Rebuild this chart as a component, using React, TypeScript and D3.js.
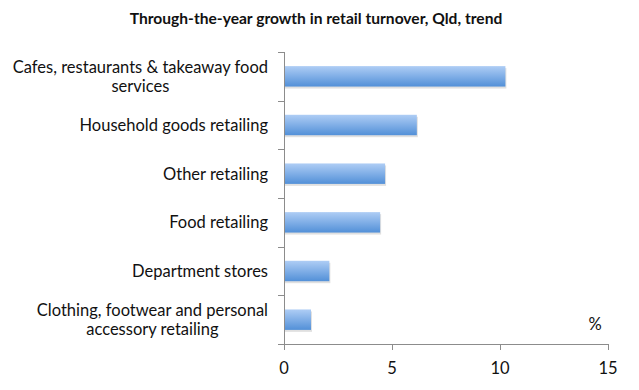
import * as d3 from "d3";
import { useEffect, useRef } from "react";

const categories = [
  "Cafes, restaurants & takeaway food|services",
  "Household goods retailing",
  "Other retailing",
  "Food retailing",
  "Department stores",
  "Clothing, footwear and personal|accessory retailing",
];
const growth = [10.25, 6.15, 4.68, 4.45, 2.1, 1.25];
const xTicks = [0, 5, 10, 15];

const WIDTH = 639;
const HEIGHT = 390;
const MARGIN = { top: 52, right: 31, bottom: 46, left: 284 };
const FONT = "Lato, 'Open Sans', sans-serif";

export default function App() {
  const ref = useRef<SVGSVGElement>(null);

  useEffect(() => {
    const svg = d3.select(ref.current);
    svg.selectAll("*").remove();

    const boundsWidth = WIDTH - MARGIN.left - MARGIN.right;
    const boundsHeight = HEIGHT - MARGIN.top - MARGIN.bottom;

    const x = d3.scaleLinear().domain([0, 15]).range([0, boundsWidth]);
    const y = d3
      .scaleBand<number>()
      .domain(d3.range(categories.length))
      .range([0, boundsHeight])
      .paddingInner(0.58)
      .paddingOuter(0.29);

    // gradient for the bars, light on top, darker below
    const defs = svg.append("defs");
    const grad = defs
      .append("linearGradient")
      .attr("id", "barGrad")
      .attr("x1", 0)
      .attr("y1", 0)
      .attr("x2", 0)
      .attr("y2", 1);
    grad.append("stop").attr("offset", "0%").attr("stop-color", "#aecdf5");
    grad.append("stop").attr("offset", "100%").attr("stop-color", "#5290d8");

    svg
      .append("text")
      .attr("x", 316)
      .attr("y", 24)
      .attr("text-anchor", "middle")
      .attr("font-family", FONT)
      .attr("font-weight", "bold")
      .attr("font-size", 15.6)
      .attr("fill", "#111")
      .text("Through-the-year growth in retail turnover, Qld, trend");

    const g = svg
      .append("g")
      .attr("transform", `translate(${MARGIN.left},${MARGIN.top})`);

    // bar shadows
    g.selectAll(".shadow")
      .data(growth)
      .join("rect")
      .attr("x", 1)
      .attr("y", (_, i) => y(i)! + 2)
      .attr("width", (d) => x(d))
      .attr("height", y.bandwidth())
      .attr("fill", "#000")
      .attr("opacity", 0.12);

    g.selectAll(".bar")
      .data(growth)
      .join("rect")
      .attr("x", 0)
      .attr("y", (_, i) => y(i)!)
      .attr("width", (d) => x(d))
      .attr("height", y.bandwidth())
      .attr("fill", "url(#barGrad)");

    const axisColor = "#8c8c8c";

    // y axis line + ticks at band boundaries
    g.append("line")
      .attr("x1", 0.5)
      .attr("x2", 0.5)
      .attr("y1", 0)
      .attr("y2", boundsHeight)
      .attr("stroke", axisColor);
    const step = boundsHeight / categories.length;
    g.selectAll(".ytick")
      .data(d3.range(categories.length + 1))
      .join("line")
      .attr("x1", -6)
      .attr("x2", 0.5)
      .attr("y1", (d) => Math.round(d * step) + 0.5)
      .attr("y2", (d) => Math.round(d * step) + 0.5)
      .attr("stroke", axisColor);

    // x axis
    g.append("line")
      .attr("x1", 0)
      .attr("x2", boundsWidth)
      .attr("y1", boundsHeight + 0.5)
      .attr("y2", boundsHeight + 0.5)
      .attr("stroke", axisColor);
    g.selectAll(".xtick")
      .data(xTicks)
      .join("line")
      .attr("x1", (d) => Math.round(x(d)) + 0.5)
      .attr("x2", (d) => Math.round(x(d)) + 0.5)
      .attr("y1", boundsHeight)
      .attr("y2", boundsHeight + 6)
      .attr("stroke", axisColor);
    g.selectAll(".xlabel")
      .data(xTicks)
      .join("text")
      .attr("x", (d) => x(d))
      .attr("y", boundsHeight + 30)
      .attr("text-anchor", "middle")
      .attr("font-family", FONT)
      .attr("font-size", 16.5)
      .attr("fill", "#111")
      .text((d) => d);

    // category labels, wrapped lines centred on the widest line
    categories.forEach((c, i) => {
      const lines = c.split("|");
      const cy = y(i)! + y.bandwidth() / 2;
      const lh = 19.5;
      const t = g
        .append("text")
        .attr("font-family", FONT)
        .attr("font-size", 16.5)
        .attr("fill", "#111")
        .attr("text-anchor", "middle");
      const spans = lines.map((l, k) =>
        t
          .append("tspan")
          .attr("y", cy + (k - (lines.length - 1) / 2) * lh + 6)
          .text(l)
      );
      const maxW = d3.max(spans, (s) => (s.node() as SVGTSPanElement).getComputedTextLength()) || 0;
      spans.forEach((s) => s.attr("x", -16 - maxW / 2));
    });

    g.append("text")
      .attr("x", x(14.4))
      .attr("y", boundsHeight - 14)
      .attr("text-anchor", "middle")
      .attr("font-family", FONT)
      .attr("font-size", 16.5)
      .attr("fill", "#111")
      .text("%");
  }, []);

  return (
    <svg
      ref={ref}
      width={WIDTH}
      height={HEIGHT}
      style={{ position: "absolute", left: 0, top: 0, background: "#fff" }}
    />
  );
}
